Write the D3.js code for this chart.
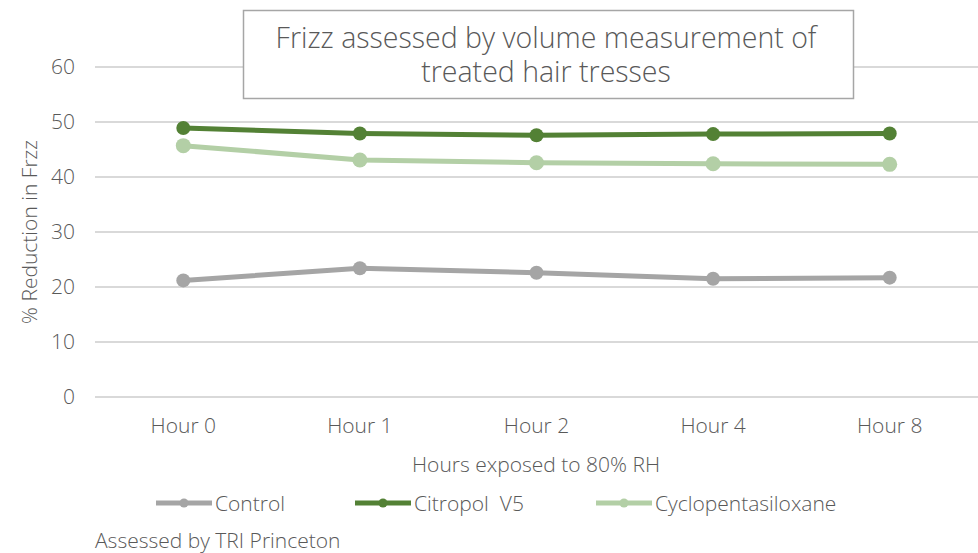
<!DOCTYPE html>
<html>
<head>
<meta charset="utf-8">
<script src="https://cdn.jsdelivr.net/npm/d3@7"></script>
<style>
  body { margin: 0; background: #fff; }
  text { font-family: "Open Sans", Lato, sans-serif; font-weight: 300; fill: #595959; }
</style>
</head>
<body>
<div id="chart"></div>
<script>
// chart data
var hours = ["Hour 0", "Hour 1", "Hour 2", "Hour 4", "Hour 8"]
var control = [21.2, 23.4, 22.6, 21.5, 21.7]
var citropol = [48.9, 47.9, 47.6, 47.8, 47.9]
var cyclo = [45.7, 43.1, 42.6, 42.4, 42.3]
var yTicks = [0, 10, 20, 30, 40, 50, 60]
var titleLines = ["Frizz assessed by volume measurement of", "treated hair tresses"]

var series = [
  { name: "Control", values: control, color: "#a5a5a5", r: 7 },
  { name: "Citropol  V5", values: citropol, color: "#538135", r: 7 },
  { name: "Cyclopentasiloxane", values: cyclo, color: "#b3cfa6", r: 7.5 }
]

var width = 978
var height = 553
var fontSize = "21px"

var svg = d3.select("#chart")
  .append("svg")
    .attr("width", width)
    .attr("height", height)

var x = d3.scaleBand()
  .domain(hours)
  .range([95, 978])

var y = d3.scaleLinear()
  .domain([0, 60])
  .range([397, 67])

// gridlines
svg.append("g")
  .selectAll("line")
  .data(yTicks)
  .enter()
  .append("line")
    .attr("x1", 95)
    .attr("x2", 978)
    .attr("y1", function(d){ return y(d) })
    .attr("y2", function(d){ return y(d) })
    .attr("stroke", "#d9d9d9")
    .attr("stroke-width", 2)

// y axis labels
var yAxis = svg.append("g")
  .attr("transform", "translate(81,0)")
  .call(d3.axisLeft(y).tickValues(yTicks).tickSize(0).tickPadding(6))
yAxis.select(".domain").remove()
yAxis.selectAll("text")
  .style("font-size", fontSize)
  .attr("fill", "#595959")

// x axis labels
var xAxis = svg.append("g")
  .attr("transform", "translate(0,412)")
  .call(d3.axisBottom(x).tickSize(0).tickPadding(6))
xAxis.select(".domain").remove()
xAxis.selectAll("text")
  .style("font-size", fontSize)
  .attr("fill", "#595959")

// axis titles
svg.append("text")
  .attr("x", 536)
  .attr("y", 472)
  .attr("text-anchor", "middle")
  .style("font-size", fontSize)
  .text("Hours exposed to 80% RH")

svg.append("text")
  .attr("transform", "translate(37,232) rotate(-90)")
  .attr("text-anchor", "middle")
  .style("font-size", fontSize)
  .text("% Reduction in Frzz")

// lines and markers
var line = d3.line()
  .x(function(d, i){ return x(hours[i]) + x.bandwidth() / 2 })
  .y(function(d){ return y(d) })

series.forEach(function(s){
  svg.append("path")
    .datum(s.values)
    .attr("d", line)
    .attr("fill", "none")
    .attr("stroke", s.color)
    .attr("stroke-width", 5)
    .attr("stroke-linejoin", "round")
  svg.append("g")
    .selectAll("circle")
    .data(s.values)
    .enter()
    .append("circle")
      .attr("cx", function(d, i){ return x(hours[i]) + x.bandwidth() / 2 })
      .attr("cy", function(d){ return y(d) })
      .attr("r", s.r)
      .attr("fill", s.color)
})

// title box
svg.append("rect")
  .attr("x", 243.5)
  .attr("y", 10.5)
  .attr("width", 610)
  .attr("height", 88)
  .attr("fill", "#fff")
  .attr("stroke", "#a6a6a6")
  .attr("stroke-width", 1.5)

// two-line title as one text block
svg.append("text")
  .attr("text-anchor", "middle")
  .style("font-size", "28.5px")
  .selectAll("tspan")
  .data(titleLines)
  .enter()
  .append("tspan")
    .attr("x", 546)
    .attr("y", function(d, i){ return 48 + i * 34 })
    .text(function(d){ return d })

// legend
var legendX = [156, 355, 596]
var legend = svg.append("g")
  .selectAll("g")
  .data(series)
  .enter()
  .append("g")
    .attr("transform", function(d, i){ return "translate(" + legendX[i] + ",503)" })
legend.append("line")
  .attr("x1", 0).attr("x2", 56)
  .attr("stroke", function(d){ return d.color })
  .attr("stroke-width", 5)
legend.append("circle")
  .attr("cx", 28)
  .attr("r", 4.5)
  .attr("fill", function(d){ return d.color })
legend.append("text")
  .attr("x", 59)
  .attr("y", 7.5)
  .style("font-size", fontSize)
  .style("white-space", "pre")
  .text(function(d){ return d.name })

svg.append("text")
  .attr("x", 95)
  .attr("y", 548)
  .style("font-size", fontSize)
  .text("Assessed by TRI Princeton")
</script>
</body>
</html>
